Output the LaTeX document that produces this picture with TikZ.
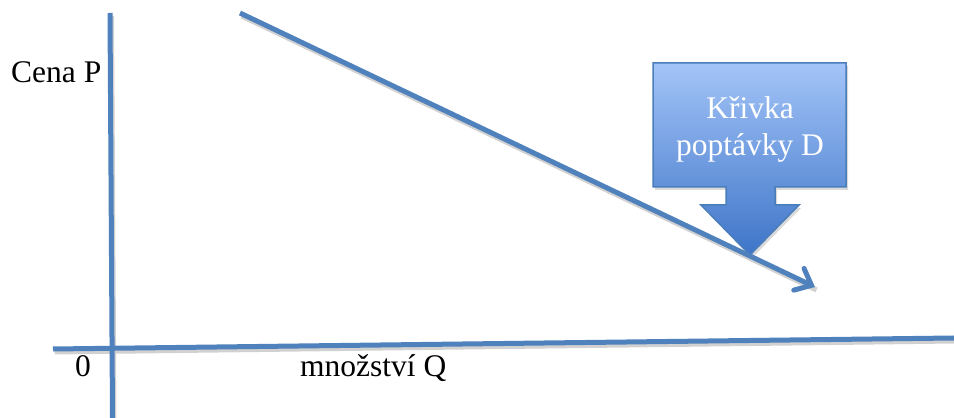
\documentclass[tikz,border=0pt]{standalone}
\usepackage{fontspec}
\setmainfont{Liberation Serif}
\usetikzlibrary{arrows.meta}
\definecolor{axisblue}{HTML}{4F81BD}
\definecolor{calltop}{HTML}{A3C4F8}
\definecolor{callbot}{HTML}{3E75C8}
\definecolor{callborder}{HTML}{4A7EBB}
\tikzset{
  axisline/.style={draw=axisblue,line width=5pt},
  shadowline/.style={draw=black!18,line width=5pt,transform canvas={shift={(1.5pt,-3pt)}}},
  lbl/.style={font=\fontsize{31.5}{37.4}\selectfont,inner sep=0pt,anchor=base west,text=black},
}
\begin{document}
\begin{tikzpicture}[x=1pt,y=1pt]
\useasboundingbox (0,0) rectangle (954,418);
% coordinates
\coordinate (vtop) at (110,405);
\coordinate (vbot) at (112.5,0);
\coordinate (hleft) at (53,69);
\coordinate (hright) at (954,80);
\coordinate (dstart) at (240,405);
\coordinate (dend) at (815,131);
% shadows
\draw[shadowline] (vtop) -- (vbot);
\draw[shadowline] (hleft) -- (hright);
\draw[shadowline] (dstart) -- (dend);
% axes
\draw[axisline] (vtop) -- (vbot);
\draw[axisline] (hleft) -- (hright);
% callout shadow
\fill[black!15,transform canvas={shift={(2pt,-3pt)}}]
  (653,355) -- (846,355) -- (846,231) -- (775,231) -- (775,213) -- (799,213)
  -- (750,163) -- (701,213) -- (726,213) -- (726,231) -- (653,231) -- cycle;
% callout
\path[draw=callborder,line width=1.5pt,top color=calltop,bottom color=callbot]
  (653,355) -- (846,355) -- (846,231) -- (775,231) -- (775,213) -- (799,213)
  -- (750,163) -- (701,213) -- (726,213) -- (726,231) -- (653,231) -- cycle;
% demand curve
\draw[axisline,-{Straight Barb[length=14pt,width=24pt,line cap=round]}] (dstart) -- (dend);
% labels
\node[lbl] (cena) at (11,335) {Cena P};
\node[lbl] (zero) at (75,41) {0};
\node[lbl] (mnoz) at (300,41) {množství Q};
\node[font=\fontsize{31.5}{37.4}\selectfont,inner sep=0pt,align=center,text=white,anchor=base] (krivka) at (750,262.3) {Křivka\\poptávky D};
\end{tikzpicture}
\end{document}
